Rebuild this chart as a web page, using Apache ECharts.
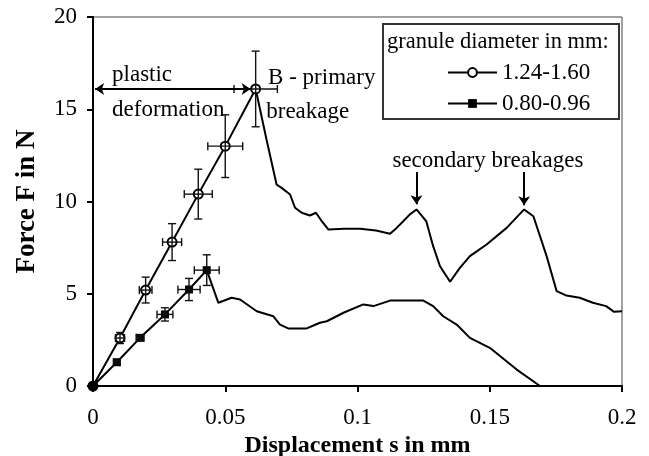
<!DOCTYPE html>
<html>
<head>
<meta charset="utf-8">
<script src="https://cdn.jsdelivr.net/npm/echarts@6/dist/echarts.min.js"></script>
<style>html,body{margin:0;padding:0;background:#fff}#c{width:649px;height:456px}</style>
</head>
<body>
<div id="c"></div>
<script>
// ---- data ----
const seriesNames = ['1.24-1.60', '0.80-0.96'];
const xTickLabels = ['0', '0.05', '0.1', '0.15', '0.2'];
const yTickLabels = ['0', '5', '10', '15', '20'];

// granule 1.24-1.60 : measured points with error bars
const m1x    = [0, 0.0102, 0.0199, 0.0299, 0.0398, 0.0500, 0.0615];
const m1y    = [0, 2.6, 5.2, 7.8, 10.4, 13.0, 16.1];
const m1xErr = [0, 0.0017, 0.0024, 0.0036, 0.0053, 0.0066, 0.0082];
const m1yErr = [0, 0.3, 0.7, 1.0, 1.35, 1.7, 2.05];
// granule 1.24-1.60 : recorded curve after primary breakage
const c1x = [0.0656, 0.0694, 0.0713, 0.0745, 0.0764, 0.0789, 0.0820, 0.0843, 0.0865, 0.0890, 0.0950, 0.1010, 0.1070, 0.1123, 0.1148, 0.1173, 0.1198, 0.1223, 0.1260, 0.1286, 0.1312, 0.1350, 0.1387, 0.1425, 0.1488, 0.1564, 0.1630, 0.1665, 0.1715, 0.1753, 0.1790, 0.1840, 0.1890, 0.1940, 0.1970, 0.2000];
const c1y = [13.36, 10.92, 10.74, 10.38, 9.66, 9.39, 9.24, 9.39, 8.93, 8.48, 8.52, 8.52, 8.43, 8.25, 8.57, 8.93, 9.30, 9.57, 8.93, 7.58, 6.49, 5.65, 6.40, 7.04, 7.67, 8.57, 9.57, 9.20, 7.04, 5.14, 4.90, 4.78, 4.51, 4.33, 4.02, 4.05];

// granule 0.80-0.96 : measured points with error bars
const m2x    = [0, 0.0090, 0.0178, 0.0272, 0.0363, 0.0430];
const m2y    = [0, 1.29, 2.61, 3.88, 5.23, 6.28];
const m2xErr = [0, 0.0012, 0.0015, 0.0030, 0.0042, 0.0047];
const m2yErr = [0, 0.10, 0.15, 0.36, 0.60, 0.83];
// granule 0.80-0.96 : recorded curve after breakage
const c2x = [0.0474, 0.0524, 0.0556, 0.0619, 0.0682, 0.0707, 0.0738, 0.0808, 0.0858, 0.0884, 0.0947, 0.1022, 0.1060, 0.1123, 0.1249, 0.1286, 0.1324, 0.1375, 0.1425, 0.1500, 0.1602, 0.1690];
const c2y = [4.51, 4.78, 4.69, 4.05, 3.78, 3.33, 3.12, 3.12, 3.43, 3.51, 3.97, 4.42, 4.33, 4.63, 4.63, 4.33, 3.78, 3.33, 2.61, 2.07, 0.89, 0.00];

// ---- build ----
const FONT = 'Liberation Serif';
const INK = '#000';

function lineData(mx, my, cx, cy) {
  const d = mx.map((x, i) => ({ value: [x, my[i]] }));
  cx.forEach((x, i) => d.push({ value: [x, cy[i]], symbol: 'none' }));
  return d;
}
function errData(mx, my, ex, ey) {
  const d = [];
  mx.forEach((x, i) => { if (ex[i] > 0 || ey[i] > 0) d.push([x, my[i], ex[i], ey[i]]); });
  return d;
}
function renderErr(params, api) {
  const x = api.value(0), y = api.value(1), ex = api.value(2), ey = api.value(3);
  const cap = 4;
  const st = { stroke: '#111', lineWidth: 1.4 };
  const ch = [];
  if (ey > 0) {
    const a = api.coord([x, y - ey]), b = api.coord([x, y + ey]);
    ch.push({ type: 'line', shape: { x1: a[0], y1: a[1], x2: b[0], y2: b[1] }, style: st });
    ch.push({ type: 'line', shape: { x1: a[0] - cap, y1: a[1], x2: a[0] + cap, y2: a[1] }, style: st });
    ch.push({ type: 'line', shape: { x1: b[0] - cap, y1: b[1], x2: b[0] + cap, y2: b[1] }, style: st });
  }
  if (ex > 0) {
    const a = api.coord([x - ex, y]), b = api.coord([x + ex, y]);
    ch.push({ type: 'line', shape: { x1: a[0], y1: a[1], x2: b[0], y2: b[1] }, style: st });
    ch.push({ type: 'line', shape: { x1: a[0], y1: a[1] - cap, x2: a[0], y2: a[1] + cap }, style: st });
    ch.push({ type: 'line', shape: { x1: b[0], y1: b[1] - cap, x2: b[0], y2: b[1] + cap }, style: st });
  }
  return { type: 'group', children: ch };
}

const chart = echarts.init(document.getElementById('c'), null, { renderer: 'canvas' });

const option = {
  animation: false,
  backgroundColor: '#fff',
  textStyle: { fontFamily: FONT, color: INK },
  grid: { left: 93, right: 27, top: 17, bottom: 70, outerBoundsMode: 'none', containLabel: false,
    show: true, borderColor: '#444', borderWidth: 1, backgroundColor: 'transparent' },
  xAxis: {
    type: 'value', min: 0, max: 0.2, interval: 0.05,
    name: 'Displacement s in mm', nameLocation: 'middle', nameGap: 48,
    nameTextStyle: { fontFamily: FONT, fontSize: 24, fontWeight: 'bold', color: INK },
    axisLine: { onZero: false, lineStyle: { color: INK, width: 2 } },
    axisTick: { length: 6, lineStyle: { color: INK, width: 2 } },
    axisLabel: { fontFamily: FONT, fontSize: 23, color: INK, margin: 20,
      formatter: v => xTickLabels[Math.round(v / 0.05)] },
    splitLine: { show: false }
  },
  yAxis: {
    type: 'value', min: 0, max: 20, interval: 5,
    name: 'Force F in N', nameLocation: 'middle', nameGap: 52, nameRotate: 90,
    nameTextStyle: { fontFamily: FONT, fontSize: 27, fontWeight: 'bold', color: INK },
    axisLine: { onZero: false, lineStyle: { color: INK, width: 2 } },
    axisTick: { length: 6, lineStyle: { color: INK, width: 2 } },
    axisLabel: { fontFamily: FONT, fontSize: 23, color: INK, margin: 16,
      formatter: v => yTickLabels[Math.round(v / 5)] },
    splitLine: { show: false }
  },
  legend: {
    data: seriesNames, orient: 'vertical', left: 442, top: 56,
    itemWidth: 49, itemHeight: 11, itemGap: 8,
    textStyle: { fontFamily: FONT, fontSize: 23, color: INK },
    selectedMode: false
  },
  series: [
    {
      name: seriesNames[0], type: 'line', data: lineData(m1x, m1y, c1x, c1y),
      symbol: 'emptyCircle', symbolSize: 9, showAllSymbol: true,
      lineStyle: { color: INK, width: 2 }, itemStyle: { color: INK, borderColor: INK, borderWidth: 1.4 },
      z: 3,
      markLine: {
        silent: true, animation: false,
        label: { show: false },
        lineStyle: { color: INK, width: 2, type: 'solid' },
        data: [
          [{ coord: [0.0008, 16.1], symbol: 'arrow', symbolSize: 9 }, { coord: [0.0596, 16.1], symbol: 'arrow', symbolSize: 9 }],
          [{ coord: [0.1223, 11.6], symbol: 'none' }, { coord: [0.1223, 9.85], symbol: 'arrow', symbolSize: 9 }],
          [{ coord: [0.1630, 11.6], symbol: 'none' }, { coord: [0.1630, 9.8], symbol: 'arrow', symbolSize: 9 }]
        ]
      }
    },
    {
      name: seriesNames[1], type: 'line', data: lineData(m2x, m2y, c2x, c2y),
      symbol: 'rect', symbolSize: 8, showAllSymbol: true,
      lineStyle: { color: INK, width: 2 }, itemStyle: { color: INK },
      z: 3
    },
    { name: 'err1', type: 'custom', renderItem: renderErr, data: errData(m1x, m1y, m1xErr, m1yErr), encode: { x: 0, y: 1 }, z: 4 },
    { name: 'err2', type: 'custom', renderItem: renderErr, data: errData(m2x, m2y, m2xErr, m2yErr), encode: { x: 0, y: 1 }, z: 4 }
  ]
};
chart.setOption(option);

// annotations placed in data coordinates
function px(x, y) { return chart.convertToPixel({ gridIndex: 0 }, [x, y]); }
const notes = [
  { t: 'plastic', at: [0.0072, 16.85], align: 'left' },
  { t: 'deformation', at: [0.0072, 14.95], align: 'left' },
  { t: 'B - primary', at: [0.0662, 16.7], align: 'left' },
  { t: 'breakage', at: [0.0655, 14.85], align: 'left' },
  { t: 'secondary breakages', at: [0.1493, 12.2], align: 'center' }
];
const g = notes.map(n => {
  const p = px(n.at[0], n.at[1]);
  return { type: 'text', x: p[0], y: p[1], z: 10,
    style: { text: n.t, fontFamily: FONT, fontSize: 23, fill: INK, align: n.align, verticalAlign: 'middle' } };
});
// legend frame and heading
g.push({ type: 'rect', shape: { x: 383, y: 24, width: 236, height: 95 }, z: 0,
  style: { fill: '#fff', stroke: '#333', lineWidth: 2 } });
g.push({ type: 'text', x: 387, y: 42, z: 10,
  style: { text: 'granule diameter in mm:', fontFamily: FONT, fontSize: 22.5, fill: INK, align: 'left', verticalAlign: 'middle' } });
chart.setOption({ graphic: g });
</script>
</body>
</html>
